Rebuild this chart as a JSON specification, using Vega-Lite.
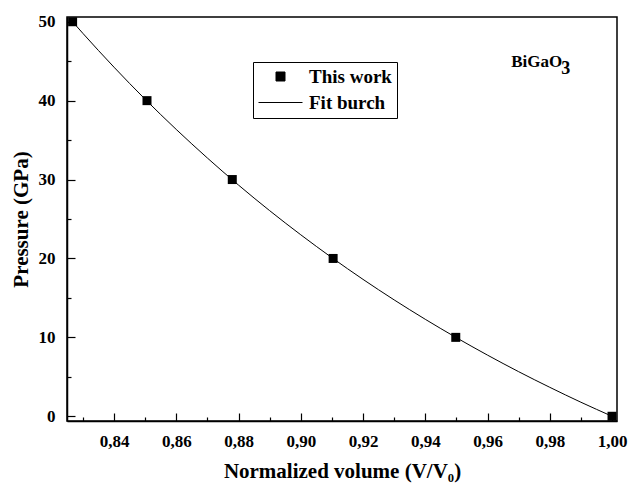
{
  "$schema": "https://vega.github.io/schema/vega-lite/v6.json",
  "autosize": "none",
  "width": 550,
  "height": 404,
  "padding": {"left": 67, "top": 17, "right": 11, "bottom": 65},
  "background": "white",
  "datasets": {
    "measured": [
      {"v": 0.8267, "p": 50, "series": "This work"},
      {"v": 0.8506, "p": 40, "series": "This work"},
      {"v": 0.878, "p": 30, "series": "This work"},
      {"v": 0.9104, "p": 20, "series": "This work"},
      {"v": 0.9498, "p": 10, "series": "This work"},
      {"v": 1.0, "p": 0, "series": "This work"}
    ],
    "fit": [
      {"v": 0.8267, "p": 50.0, "series": "Fit burch"},
      {"v": 0.83, "p": 48.53, "series": "Fit burch"},
      {"v": 0.84, "p": 44.24, "series": "Fit burch"},
      {"v": 0.85, "p": 40.18, "series": "Fit burch"},
      {"v": 0.86, "p": 36.35, "series": "Fit burch"},
      {"v": 0.87, "p": 32.73, "series": "Fit burch"},
      {"v": 0.88, "p": 29.30, "series": "Fit burch"},
      {"v": 0.89, "p": 26.06, "series": "Fit burch"},
      {"v": 0.90, "p": 23.00, "series": "Fit burch"},
      {"v": 0.91, "p": 20.10, "series": "Fit burch"},
      {"v": 0.92, "p": 17.35, "series": "Fit burch"},
      {"v": 0.93, "p": 14.75, "series": "Fit burch"},
      {"v": 0.94, "p": 12.29, "series": "Fit burch"},
      {"v": 0.95, "p": 9.96, "series": "Fit burch"},
      {"v": 0.96, "p": 7.75, "series": "Fit burch"},
      {"v": 0.97, "p": 5.65, "series": "Fit burch"},
      {"v": 0.98, "p": 3.67, "series": "Fit burch"},
      {"v": 0.99, "p": 1.78, "series": "Fit burch"},
      {"v": 1.0, "p": 0, "series": "Fit burch"}
    ],
    "annot": [{"formula": "BiGaO", "sub": "3"}]
  },
  "config": {
    "view": {"stroke": "black", "strokeWidth": 1.5},
    "axis": {
      "labelFont": "Liberation Serif",
      "labelFontWeight": "bold",
      "labelFontSize": 17,
      "labelColor": "black",
      "titleFont": "Liberation Serif",
      "titleFontWeight": "bold",
      "titleFontSize": 21,
      "titleColor": "black",
      "domainColor": "black",
      "domainWidth": 1.5,
      "tickColor": "black",
      "tickWidth": 1.2,
      "grid": false
    },
    "legend": {
      "orient": "none",
      "legendX": 186,
      "legendY": 45,
      "title": null,
      "strokeColor": "black",
      "strokeWidth": 1,
      "padding": 5,
      "symbolSize": 81,
      "symbolOffset": 13,
      "labelOffset": 19,
      "rowPadding": 6,
      "labelFont": "Liberation Serif",
      "labelFontWeight": "bold",
      "labelFontSize": 19,
      "labelColor": "black",
      "symbolStrokeWidth": 1
    }
  },
  "resolve": {"axis": {"x": "independent", "y": "independent"}},
  "layer": [
    {
      "data": {"name": "fit"},
      "mark": {"type": "line", "interpolate": "monotone", "strokeWidth": 1},
      "encoding": {
        "x": {
          "field": "v", "type": "quantitative",
          "scale": {"domain": [0.8249, 1.0016], "nice": false, "zero": false},
          "axis": {"orient": "bottom", "values": [0.83, 0.85, 0.87, 0.89, 0.91, 0.93, 0.95, 0.97, 0.99], "labels": false, "domain": false, "tickSize": -4, "title": null}
        },
        "y": {
          "field": "p", "type": "quantitative",
          "scale": {"domain": [-0.6, 50.6], "nice": false, "zero": false},
          "axis": {"orient": "left", "values": [5, 15, 25, 35, 45], "labels": false, "domain": false, "tickSize": -4, "title": null}
        },
        "color": {
          "field": "series", "type": "nominal",
          "scale": {"domain": ["This work", "Fit burch"], "range": ["black", "black"]},
          "legend": {
            "encode": {
              "symbols": {
                "update": {
                  "shape": {"signal": "datum.value === 'Fit burch' ? 'stroke' : 'square'"},
                  "size": {"signal": "datum.value === 'Fit burch' ? 1936 : 81"},
                  "fill": {"value": "black"},
                  "stroke": {"value": "black"},
                  "strokeWidth": {"value": 1}
                }
              }
            }
          }
        }
      }
    },
    {
      "data": {"name": "measured"},
      "mark": {"type": "point", "shape": "square", "filled": true, "size": 81, "opacity": 1},
      "encoding": {
        "x": {
          "field": "v", "type": "quantitative",
          "axis": {"orient": "bottom", "values": [0.84, 0.86, 0.88, 0.90, 0.92, 0.94, 0.96, 0.98, 1.0], "labelExpr": "replace(format(datum.value, '.2f'), '.', ',')", "tickSize": -8, "labelPadding": 20, "title": "Normalized volume (V/V₀)", "titlePadding": 11}
        },
        "y": {
          "field": "p", "type": "quantitative",
          "axis": {"orient": "left", "values": [0, 10, 20, 30, 40, 50], "tickSize": -8, "labelPadding": 20, "title": "Pressure (GPa)", "titlePadding": 7}
        },
        "color": {"field": "series", "type": "nominal"}
      }
    },
    {
      "data": {"name": "annot"},
      "mark": {"type": "text", "align": "left", "baseline": "alphabetic", "font": "Liberation Serif", "fontWeight": "bold", "fontSize": 17, "color": "black"},
      "encoding": {
        "x": {"datum": 0.9676, "type": "quantitative", "axis": null},
        "y": {"datum": 44.3, "type": "quantitative", "axis": null},
        "text": {"field": "formula"}
      }
    },
    {
      "data": {"name": "annot"},
      "mark": {"type": "text", "align": "left", "baseline": "alphabetic", "font": "Liberation Serif", "fontWeight": "bold", "fontSize": 18, "color": "black", "dx": 50, "dy": 7},
      "encoding": {
        "x": {"datum": 0.9676, "type": "quantitative", "axis": null},
        "y": {"datum": 44.3, "type": "quantitative", "axis": null},
        "text": {"field": "sub"}
      }
    }
  ]
}
